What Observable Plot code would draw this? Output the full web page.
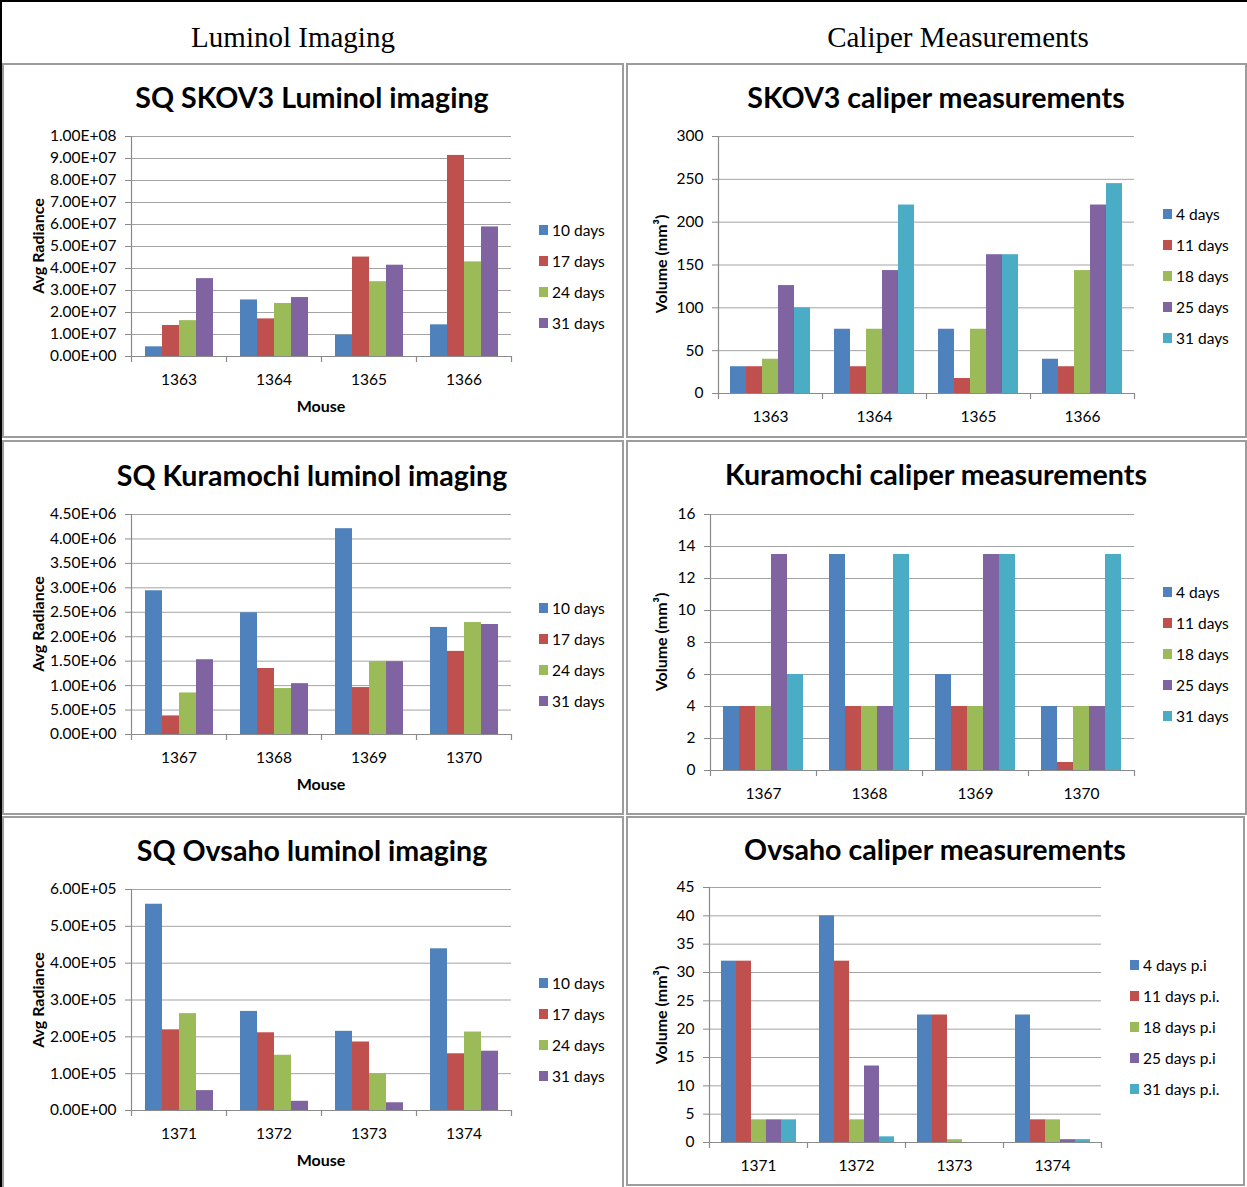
<!DOCTYPE html>
<html>
<head>
<meta charset="utf-8">
<script src="https://cdn.jsdelivr.net/npm/d3@7"></script>
<script src="https://cdn.jsdelivr.net/npm/@observablehq/plot@0.6"></script>
<style>
  html, body { margin: 0; padding: 0; background: #fff; }
  #page { position: relative; width: 1247px; height: 1187px; overflow: hidden; font-family: Lato, "Open Sans", sans-serif; color: #000; }
  .outer { position: absolute; left: 0; top: 0; width: 1247px; height: 1187px; box-sizing: border-box; border-top: 2px solid #000; border-left: 2px solid #000; }
  .head { position: absolute; font-family: "Liberation Serif", "Times New Roman", serif; font-size: 29px; transform: translate(-50%, -50%); white-space: nowrap; }
  .panel { position: absolute; box-sizing: border-box; border: 2px solid #9c9c9c; }
  .title { position: absolute; font-weight: bold; font-size: 28.6px; transform: translate(-50%, -50%); white-space: nowrap; }
  .xlab { position: absolute; font-weight: bold; font-size: 16px; transform: translate(-50%, -50%); white-space: nowrap; }
  .ylab { position: absolute; font-weight: bold; font-size: 16px; transform: translate(-50%, -50%) rotate(-90deg); white-space: nowrap; }
  .leg { position: absolute; font-size: 15.5px; white-space: nowrap; transform: translateY(-50%); display: flex; align-items: center; }
  .sw { display: inline-block; width: 9px; height: 10px; margin-right: 4px; }
  svg.chart { position: absolute; }
</style>
</head>
<body>
<div id="page"><div class="outer"></div></div>
<script>
// ---- series colours (Office palette) ----
const palette = ["#4F81BD", "#C0504D", "#9BBB59", "#8064A2", "#4BACC6"];
const gridColor = "#a3a3a3";
const axisColor = "#8a8a8a";

// ---- SKOV3 luminol imaging (avg radiance) ----
const skovMice = ["1363", "1364", "1365", "1366"];
const lumDays = ["10 days", "17 days", "24 days", "31 days"];
const skovLum10 = [4.4e6, 2.57e7, 9.7e6, 1.44e7];
const skovLum17 = [1.41e7, 1.71e7, 4.52e7, 9.14e7];
const skovLum24 = [1.63e7, 2.41e7, 3.40e7, 4.30e7];
const skovLum31 = [3.54e7, 2.68e7, 4.15e7, 5.89e7];
const skovLumTicks = [0, 1e7, 2e7, 3e7, 4e7, 5e7, 6e7, 7e7, 8e7, 9e7, 1e8];

// ---- SKOV3 caliper measurements (mm³) ----
const calDays = ["4 days", "11 days", "18 days", "25 days", "31 days"];
const skovCal4 = [31.25, 75, 75, 40];
const skovCal11 = [31.25, 31.25, 17.5, 31.25];
const skovCal18 = [40, 75, 75, 143.5];
const skovCal25 = [126, 143.5, 162, 220];
const skovCal31 = [100, 220, 162, 245];
const skovCalTicks = [0, 50, 100, 150, 200, 250, 300];

// ---- Kuramochi luminol imaging ----
const kuraMice = ["1367", "1368", "1369", "1370"];
const kuraLum10 = [2.94e6, 2.49e6, 4.21e6, 2.19e6];
const kuraLum17 = [3.8e5, 1.35e6, 9.6e5, 1.70e6];
const kuraLum24 = [8.5e5, 9.4e5, 1.49e6, 2.29e6];
const kuraLum31 = [1.53e6, 1.04e6, 1.49e6, 2.25e6];
const kuraLumTicks = [0, 5e5, 1e6, 1.5e6, 2e6, 2.5e6, 3e6, 3.5e6, 4e6, 4.5e6];

// ---- Kuramochi caliper measurements ----
const kuraCal4 = [4, 13.5, 6, 4];
const kuraCal11 = [4, 4, 4, 0.5];
const kuraCal18 = [4, 4, 4, 4];
const kuraCal25 = [13.5, 4, 13.5, 4];
const kuraCal31 = [6, 13.5, 13.5, 13.5];
const kuraCalTicks = [0, 2, 4, 6, 8, 10, 12, 14, 16];

// ---- Ovsaho luminol imaging ----
const ovMice = ["1371", "1372", "1373", "1374"];
const ovLum10 = [5.60e5, 2.69e5, 2.15e5, 4.39e5];
const ovLum17 = [2.19e5, 2.11e5, 1.86e5, 1.54e5];
const ovLum24 = [2.63e5, 1.50e5, 1.00e5, 2.13e5];
const ovLum31 = [5.4e4, 2.5e4, 2.1e4, 1.61e5];
const ovLumTicks = [0, 1e5, 2e5, 3e5, 4e5, 5e5, 6e5];

// ---- Ovsaho caliper measurements ----
const ovDays = ["4 days p.i", "11 days p.i.", "18 days p.i", "25 days p.i", "31 days p.i."];
const ovCal4 = [32, 40, 22.5, 22.5];
const ovCal11 = [32, 32, 22.5, 4];
const ovCal18 = [4, 4, 0.5, 4];
const ovCal25 = [4, 13.5, 0, 0.5];
const ovCal31 = [4, 1, 0, 0.5];
const ovCalTicks = [0, 5, 10, 15, 20, 25, 30, 35, 40, 45];

// Excel-style scientific labels: 1.00E+08
function sci(d) {
  const [m, e] = d.toExponential(2).split("e");
  return m + "E" + e[0] + e.slice(1).padStart(2, "0");
}
const plain = d => String(d);

// layout: panel box, plot area [x1, y1, x2, y2], text anchors
const charts = [
  { panel: [2, 63, 622, 375], area: [131, 136, 511, 356], title: "SQ SKOV3 Luminol imaging", titleAt: [312, 97],
    mice: skovMice, series: lumDays, values: [skovLum10, skovLum17, skovLum24, skovLum31], ticks: skovLumTicks, fmt: sci,
    ylabel: "Avg Radiance", ylabelAt: [37, 246], xlabel: "Mouse", xlabelAt: [321, 405], legendAt: [539, 230] },
  { panel: [626, 63, 621, 375], area: [716, 136, 1135, 393], title: "SKOV3 caliper measurements", titleAt: [936, 97],
    mice: skovMice, series: calDays, values: [skovCal4, skovCal11, skovCal18, skovCal25, skovCal31], ticks: skovCalTicks, fmt: plain,
    ylabel: "Volume (mm³)", ylabelAt: [660, 264], legendAt: [1163, 214] },
  { panel: [2, 440, 622, 375], area: [131, 514, 511, 734], title: "SQ Kuramochi luminol imaging", titleAt: [312, 475],
    mice: kuraMice, series: lumDays, values: [kuraLum10, kuraLum17, kuraLum24, kuraLum31], ticks: kuraLumTicks, fmt: sci,
    ylabel: "Avg Radiance", ylabelAt: [37, 624], xlabel: "Mouse", xlabelAt: [321, 783], legendAt: [539, 608] },
  { panel: [626, 440, 621, 375], area: [708, 514, 1135, 770], title: "Kuramochi caliper measurements", titleAt: [936, 474],
    mice: kuraMice, series: calDays, values: [kuraCal4, kuraCal11, kuraCal18, kuraCal25, kuraCal31], ticks: kuraCalTicks, fmt: plain,
    ylabel: "Volume (mm³)", ylabelAt: [660, 642], legendAt: [1163, 592] },
  { panel: [2, 816, 622, 374], area: [131, 889, 511, 1110], title: "SQ Ovsaho luminol imaging", titleAt: [312, 850],
    mice: ovMice, series: lumDays, values: [ovLum10, ovLum17, ovLum24, ovLum31], ticks: ovLumTicks, fmt: sci,
    ylabel: "Avg Radiance", ylabelAt: [37, 1000], xlabel: "Mouse", xlabelAt: [321, 1159], legendAt: [539, 983] },
  { panel: [626, 816, 619, 370], area: [708, 887, 1102, 1142], title: "Ovsaho caliper measurements", titleAt: [935, 849],
    mice: ovMice, series: ovDays, values: [ovCal4, ovCal11, ovCal18, ovCal25, ovCal31], ticks: ovCalTicks, fmt: plain,
    ylabel: "Volume (mm³)", ylabelAt: [660, 1015], legendAt: [1130, 965] }
];

const page = document.getElementById("page");

function addText(cls, text, x, y) {
  const el = document.createElement("div");
  el.className = cls;
  el.textContent = text;
  el.style.left = x + "px";
  el.style.top = y + "px";
  page.appendChild(el);
  return el;
}

addText("head", "Luminol Imaging", 293, 37);
addText("head", "Caliper Measurements", 958, 37);

function draw(c) {
  const [px, py, pw, ph] = c.panel;
  const [ax1, ay1, ax2, ay2] = c.area;

  const box = document.createElement("div");
  box.className = "panel";
  Object.assign(box.style, { left: px + "px", top: py + "px", width: pw + "px", height: ph + "px" });
  page.appendChild(box);

  const rows = [];
  c.series.forEach((s, i) => c.values[i].forEach((v, j) => rows.push({ mouse: c.mice[j], series: s, value: v })));
  const yMax = c.ticks[c.ticks.length - 1];

  const chart = Plot.plot({
    width: pw, height: ph,
    marginLeft: ax1 - px, marginRight: px + pw - ax2,
    marginTop: ay1 - py, marginBottom: py + ph - ay2,
    style: { fontFamily: "Lato, 'Open Sans', sans-serif", fontSize: "15.5px", color: "#000", background: "transparent", overflow: "visible" },
    fx: { domain: c.mice, paddingInner: 0, paddingOuter: 0 },
    x: { domain: c.series, paddingInner: 0, paddingOuter: 0.75, axis: null },
    y: { domain: [0, yMax] },
    color: { domain: c.series, range: palette },
    marks: [
      Plot.ruleY(c.ticks, { stroke: gridColor, strokeWidth: 1 }),
      Plot.barY(rows, { fx: "mouse", x: "series", y: "value", fill: "series" }),
      Plot.ruleY([0], { stroke: axisColor, strokeWidth: 1.2 }),
      Plot.axisY({ ticks: c.ticks, tickFormat: c.fmt, tickSize: 6, tickPadding: 9, stroke: axisColor, label: null }),
      Plot.axisFx({ anchor: "bottom", tickSize: 0, tickPadding: 17, label: null })
    ]
  });
  chart.classList.add("chart");
  chart.style.left = px + "px";
  chart.style.top = py + "px";
  page.appendChild(chart);

  // value-axis line and category divider ticks, placed from the plot's own scales
  const fx = chart.scale("fx"), y = chart.scale("y");
  const y0 = y.apply(0), yTop = y.apply(yMax);
  const edges = c.mice.map(m => fx.apply(m));
  edges.push(fx.apply(c.mice[c.mice.length - 1]) + fx.bandwidth);
  const g = d3.select(chart).append("g").attr("stroke", axisColor).attr("stroke-width", 1.2);
  g.append("line").attr("x1", edges[0] + 0.5).attr("x2", edges[0] + 0.5).attr("y1", yTop).attr("y2", y0 + 6);
  edges.slice(1).forEach(e => g.append("line").attr("x1", e + 0.5).attr("x2", e + 0.5).attr("y1", y0).attr("y2", y0 + 6));

  addText("title", c.title, c.titleAt[0], c.titleAt[1]);
  addText("ylab", c.ylabel, c.ylabelAt[0], c.ylabelAt[1]);
  if (c.xlabel) addText("xlab", c.xlabel, c.xlabelAt[0], c.xlabelAt[1]);

  // legend
  c.series.forEach((s, i) => {
    const el = document.createElement("div");
    el.className = "leg";
    el.style.left = c.legendAt[0] + "px";
    el.style.top = (c.legendAt[1] + i * 31) + "px";
    const sw = document.createElement("span");
    sw.className = "sw";
    sw.style.background = palette[i];
    el.appendChild(sw);
    el.appendChild(document.createTextNode(s));
    page.appendChild(el);
  });
}

charts.forEach(draw);
</script>
</body>
</html>
